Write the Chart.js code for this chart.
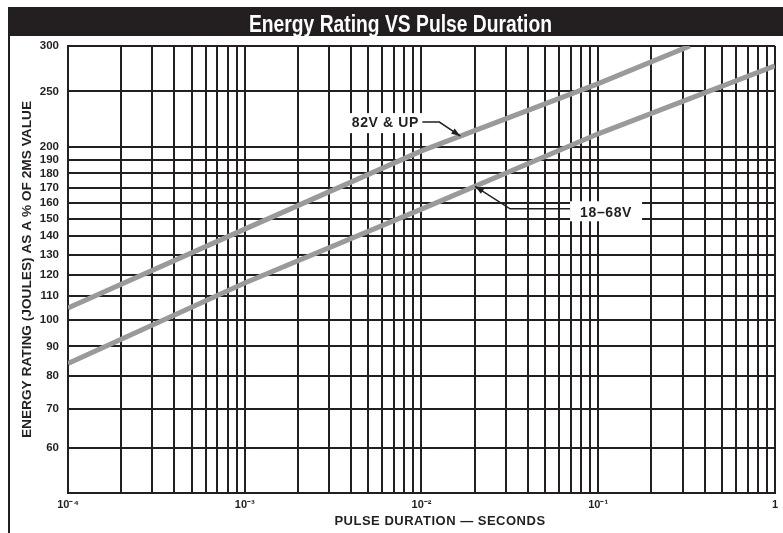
<!DOCTYPE html>
<html><head><meta charset="utf-8">
<script src="https://cdn.jsdelivr.net/npm/chart.js@4.4.1/dist/chart.umd.min.js"></script>
<style>html,body{margin:0;padding:0;background:#fff}</style>
</head><body>
<canvas id="c" width="783" height="533"></canvas>
<script>
// ---- data ----
const chartTitle = 'Energy Rating VS Pulse Duration';
const xAxisTitle = 'PULSE DURATION — SECONDS';
const yAxisTitle = 'ENERGY RATING (JOULES) AS A % OF 2MS VALUE';
const seriesNames = ['82V & UP', '18–68V'];
const durations82 = [1e-4, 1e-3, 1e-2, 1e-1, 0.33];
const energy82 = [105, 144, 197, 258, 300];
const durations18 = [1e-4, 1e-3, 1e-2, 1e-1, 1];
const energy18 = [84, 116, 156, 211, 277];
const yTickValues = [60, 70, 80, 90, 100, 110, 120, 130, 140, 150, 160, 170, 180, 190, 200, 250, 300];
const xDecades = [1e-4, 1e-3, 1e-2, 1e-1, 1];
const xDecadeLabels = ['10⁻⁴', '10⁻³', '10⁻²', '10⁻¹', '1'];
const calloutDurations = [0.0166, 0.0201];

const INK = '#231f20';
const LINE = '#9a9a9a';

function pts(xs, ys) { return xs.map((x, i) => ({ x: x, y: ys[i] })); }

function xTicks() {
  const out = [];
  for (let d = 0; d < xDecades.length; d++) {
    const base = xDecades[d];
    if (d === xDecades.length - 1) { out.push({ value: base }); break; }
    for (let m = 1; m <= 9; m++) out.push({ value: +(base * m).toPrecision(6) });
  }
  return out;
}

function decadeLabel(v) {
  for (let i = 0; i < xDecades.length; i++) {
    if (Math.abs(v / xDecades[i] - 1) < 1e-6) return xDecadeLabels[i];
  }
  return '';
}

// point on a drawn series at duration t (pixel interpolation along the drawn segment)
function pointOnSeries(chart, dsIndex, t) {
  const data = chart.data.datasets[dsIndex].data;
  const xs = chart.scales.x, ys = chart.scales.y;
  for (let i = 0; i < data.length - 1; i++) {
    if (t >= data[i].x && t <= data[i + 1].x) {
      const x0 = xs.getPixelForValue(data[i].x), y0 = ys.getPixelForValue(data[i].y);
      const x1 = xs.getPixelForValue(data[i + 1].x), y1 = ys.getPixelForValue(data[i + 1].y);
      const px = xs.getPixelForValue(t);
      const f = (px - x0) / (x1 - x0);
      return { x: px, y: y0 + f * (y1 - y0) };
    }
  }
  return null;
}

function arrow(ctx, pathPts) {
  ctx.save();
  ctx.strokeStyle = INK; ctx.fillStyle = INK; ctx.lineWidth = 1.5;
  ctx.beginPath();
  ctx.moveTo(pathPts[0].x, pathPts[0].y);
  for (let i = 1; i < pathPts.length; i++) ctx.lineTo(pathPts[i].x, pathPts[i].y);
  ctx.stroke();
  const tip = pathPts[pathPts.length - 1], prev = pathPts[pathPts.length - 2];
  const a = Math.atan2(tip.y - prev.y, tip.x - prev.x);
  const L = 9, W = 3.2;
  ctx.beginPath();
  ctx.moveTo(tip.x, tip.y);
  ctx.lineTo(tip.x - L * Math.cos(a) + W * Math.sin(a), tip.y - L * Math.sin(a) - W * Math.cos(a));
  ctx.lineTo(tip.x - L * Math.cos(a) - W * Math.sin(a), tip.y - L * Math.sin(a) + W * Math.cos(a));
  ctx.closePath(); ctx.fill();
  ctx.restore();
}

function label(ctx, text, cx, cy, boxL, boxT, boxW, boxH) {
  ctx.save();
  ctx.fillStyle = '#fff';
  ctx.fillRect(boxL, boxT, boxW, boxH);
  ctx.fillStyle = INK;
  ctx.font = 'bold 14px "Liberation Sans", Arial, sans-serif';
  ctx.letterSpacing = '0.6px';
  ctx.textAlign = 'center'; ctx.textBaseline = 'middle';
  ctx.fillText(text, cx, cy);
  ctx.restore();
}

const decor = {
  id: 'decor',
  beforeDraw(chart) {
    const ctx = chart.ctx;
    ctx.save();
    ctx.fillStyle = '#fff';
    ctx.fillRect(0, 0, chart.width, chart.height);
    ctx.restore();
  },
  afterDraw(chart) {
    const ctx = chart.ctx;
    ctx.save();
    // title bar
    ctx.fillStyle = INK;
    ctx.fillRect(8, 7, chart.width - 8, 29);
    ctx.fillRect(8, 36, 2, chart.height - 36);
    // title, condensed horizontally to the reference width
    ctx.fillStyle = '#fff';
    ctx.font = 'bold 23px "Liberation Sans", Arial, sans-serif';
    ctx.textAlign = 'center'; ctx.textBaseline = 'alphabetic';
    const w = ctx.measureText(chartTitle).width;
    const sx = 303 / w;
    ctx.save();
    ctx.translate(400.5, 31.5);
    ctx.scale(sx, 1);
    ctx.fillText(chartTitle, 0, 0);
    ctx.restore();
    // x axis title
    ctx.fillStyle = INK;
    ctx.font = 'bold 13px "Liberation Sans", Arial, sans-serif';
    ctx.letterSpacing = '0.5px';
    ctx.textBaseline = 'middle';
    ctx.fillText(xAxisTitle, 440, 521);
    ctx.restore();

    // callouts
    const p0 = pointOnSeries(chart, 0, calloutDurations[0]);
    if (p0) {
      label(ctx, seriesNames[0], p0.x - 75, p0.y - 12.5, p0.x - 111, p0.y - 23, 73, 20);
      arrow(ctx, [{ x: p0.x - 38, y: p0.y - 14 }, { x: p0.x - 21, y: p0.y - 14 }, { x: p0.x, y: p0.y }]);
    }
    const p1 = pointOnSeries(chart, 1, calloutDurations[1]);
    if (p1) {
      arrow(ctx, [{ x: p1.x + 95, y: p1.y + 22.5 }, { x: p1.x + 35, y: p1.y + 22.5 }, { x: p1.x, y: p1.y }]);
      label(ctx, seriesNames[1], p1.x + 131, p1.y + 26.5, p1.x + 95, p1.y + 15, 72, 20);
    }
  }
};

const tickFont = { family: '"Liberation Sans", Arial, sans-serif', weight: 'bold' };

new Chart(document.getElementById('c'), {
  type: 'line',
  data: {
    datasets: [
      { label: seriesNames[0], data: pts(durations82, energy82), borderColor: LINE, borderWidth: 5, pointRadius: 0, tension: 0, borderCapStyle: 'butt' },
      { label: seriesNames[1], data: pts(durations18, energy18), borderColor: LINE, borderWidth: 5, pointRadius: 0, tension: 0, borderCapStyle: 'butt' }
    ]
  },
  options: {
    responsive: false,
    devicePixelRatio: 1,
    animation: false,
    layout: { padding: { top: 46, right: 4, left: 0, bottom: 0 } },
    plugins: { legend: { display: false }, title: { display: false }, tooltip: { enabled: false } },
    scales: {
      x: {
        type: 'logarithmic', min: xDecades[0], max: xDecades[xDecades.length - 1],
        afterBuildTicks: s => { s.ticks = xTicks(); },
        afterFit: s => { s.height = 40; },
        ticks: { autoSkip: false, maxRotation: 0, minRotation: 0, padding: 5, color: INK, font: { ...tickFont, size: 11 }, callback: v => decadeLabel(v) },
        grid: { color: INK, lineWidth: 2, drawTicks: false },
        border: { color: INK, width: 2 }
      },
      y: {
        type: 'logarithmic', min: 50, max: 300,
        afterBuildTicks: s => { s.ticks = yTickValues.map(v => ({ value: v })); },
        afterFit: s => { s.width = 68; },
        ticks: { autoSkip: false, padding: 9, color: INK, font: { ...tickFont, size: 11.5 }, callback: v => String(v) },
        grid: { color: INK, lineWidth: 2, drawTicks: false },
        border: { color: INK, width: 2 },
        title: { display: true, text: yAxisTitle, color: INK, font: { ...tickFont, size: 13.7 }, padding: { top: 19.5, bottom: 0 } }
      }
    }
  },
  plugins: [decor]
});
</script>
</body></html>
